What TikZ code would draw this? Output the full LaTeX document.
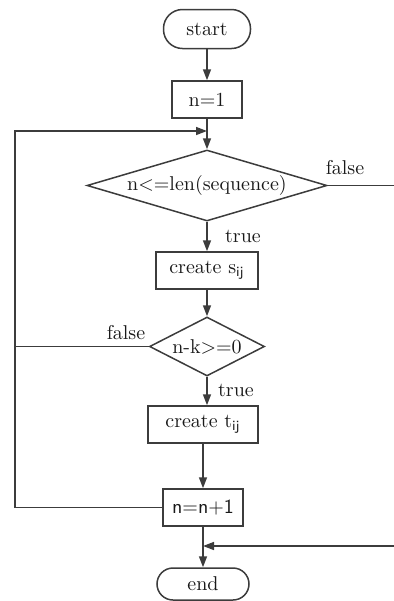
\documentclass[tikz,border=0pt]{standalone}
\usepackage{xcolor}
\usepackage{tikz}
\usetikzlibrary{positioning,arrows.meta,calc,shapes.geometric}
\definecolor{fcline}{RGB}{60,60,60}
\definecolor{fctext}{RGB}{25,25,25}
\tikzset{
  term/.style={draw=fcline, line width=0.75pt, rounded corners=9.5pt,
               minimum width=43.5pt, minimum height=19.5pt, inner sep=2pt,
               text=fctext},
  proc/.style={draw=fcline, line width=0.75pt, minimum height=18.5pt,
               inner sep=2pt, text=fctext},
  test/.style={diamond, draw=fcline, line width=0.75pt, inner sep=0pt,
               text=fctext},
  flow/.style={-{Triangle[length=5.5pt,width=4pt]}, draw=fcline, line width=0.75pt},
  wire/.style={draw=fcline, line width=0.75pt},
  tag/.style={text=fctext},
}

\begin{document}
\begin{tikzpicture}[x=0.5pt, y=-0.5pt]
\useasboundingbox (0,0) rectangle (394,601);
% main column of the flowchart, top to bottom
\node[term] (start) at (207,29) {start};
\node[proc, minimum width=35pt] (init) at (207,99.5) {n=1};
\node[test, aspect=3.4, minimum width=120pt, minimum height=35.5pt] (lencheck)
  at (207,185.5) {n<=len(sequence)};
\node[proc, minimum width=51pt] (mks) at (207,270.5) {create s\textsubscript{\sffamily ij}};
\node[test, aspect=2, minimum width=57.5pt, minimum height=29.5pt] (kcheck)
  at (207,346.5) {n-k>=0};
\node[proc, minimum width=55pt] (mkt) at (203,424.5) {create t\textsubscript{\sffamily ij}};
\node[proc, minimum width=40pt, font=\sffamily] (inc) at (203,507.5) {n=n+1};
\node[term, minimum width=46pt, minimum height=16pt, rounded corners=8pt] (stop)
  at (203,584) {end};

% join points and free ends
\coordinate (loopin) at (207,131);
\coordinate (loopleft) at (15,507.5);
\coordinate (exitout) at (394,185.5);
\coordinate (exitback) at (394,546);
\coordinate (exitin) at (203,546);

% connectors
\draw[flow] (start) -- (init);
\draw[flow] (init) -- (lencheck);
\draw[flow] (inc.west) -- (loopleft) |- (loopin);
\draw[wire] (lencheck.east) -- (exitout);
\draw[flow] (lencheck) -- (mks);
\draw[flow] (mks) -- (kcheck);
\draw[wire] (kcheck.west) -- (kcheck.west -| loopleft);
\draw[flow] (kcheck.south) -- (kcheck.south |- mkt.north);
\draw[flow] (mkt) -- (inc);
\draw[flow] (inc) -- (stop);
\draw[flow] (exitback) -- (exitin);

% branch labels
\node[tag] (falseA) at (345,168) {false};
\node[tag] (trueA) at (243,236) {true};
\node[tag] (falseB) at (126,333) {false};
\node[tag] (trueB) at (236,390) {true};
\end{tikzpicture}
\end{document}
